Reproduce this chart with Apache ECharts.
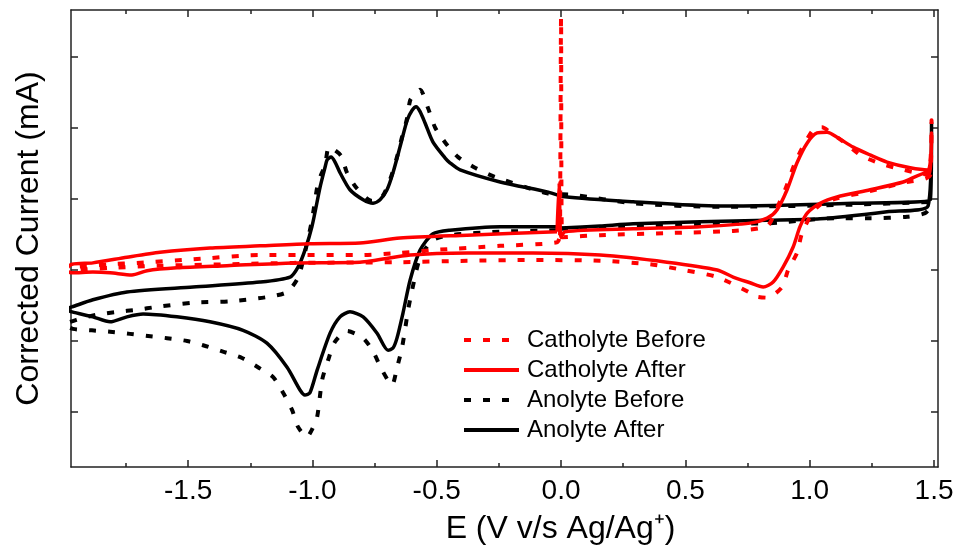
<!DOCTYPE html>
<html><head><meta charset="utf-8">
<script src="https://cdn.jsdelivr.net/npm/echarts@6/dist/echarts.min.js"></script>
<style>html,body{margin:0;padding:0;background:#fff}#c{width:957px;height:552px}</style>
</head><body><div id="c"></div>
<script>
// ---- tick values ----
const xMajorTicks = [-1.5, -1.0, -0.5, 0, 0.5, 1.0, 1.5];
const xMinorTicks = [-1.75, -1.25, -0.75, -0.25, 0.25, 0.75, 1.25];
const yTicks = [-3, -2, -1, 0, 1, 2];
const xRange = [-1.971, 1.516];
const yRange = [-3.775, 2.662];

// ---- series data: [E (V), corrected current (arb. tick units)] ----
const anolyteAfter = [
  [0,-0.41],[0.157,-0.38],[0.290,-0.35],[0.559,-0.32],[0.829,-0.30],[1.042,-0.28],[1.311,-0.18],[1.476,-0.10],
  [1.49,1.08],[1.485,-0.01],[1.175,-0.06],[0.640,-0.10],[0.290,-0.04],[0.016,0.03],[-0.056,0.10],[-0.245,0.24],
  [-0.406,0.41],[-0.447,0.51],[-0.467,0.58],[-0.515,0.80],[-0.547,1.07],[-0.567,1.23],[-0.583,1.30],[-0.599,1.25],
  [-0.619,1.11],[-0.648,0.73],[-0.676,0.37],[-0.700,0.13],[-0.728,-0.01],[-0.756,-0.06],[-0.796,-0.01],[-0.849,0.13],
  [-0.889,0.37],[-0.909,0.52],[-0.925,0.59],[-0.941,0.55],[-0.949,0.45],[-0.969,0.17],[-1.002,-0.39],[-1.030,-0.72],
  [-1.058,-0.96],[-1.090,-1.10],[-1.211,-1.17],[-1.480,-1.24],[-1.746,-1.31],[-1.883,-1.42],[-1.967,-1.52],[-1.995,-1.55],
  [-1.967,-1.59],[-1.883,-1.66],[-1.814,-1.73],[-1.746,-1.66],[-1.681,-1.62],[-1.545,-1.66],[-1.412,-1.73],[-1.279,-1.85],
  [-1.183,-2.03],[-1.102,-2.37],[-1.050,-2.69],[-1.030,-2.76],[-1.010,-2.73],[-0.981,-2.41],[-0.929,-1.89],[-0.889,-1.66],
  [-0.849,-1.59],[-0.796,-1.66],[-0.740,-1.89],[-0.696,-2.13],[-0.676,-2.10],[-0.660,-1.96],[-0.636,-1.61],[-0.607,-1.14],
  [-0.567,-0.72],[-0.515,-0.49],[-0.447,-0.44],[-0.245,-0.39],[-0.016,-0.39],[0,-0.41]
];
const anolyteBefore = [
  [0,-0.42],[0.290,-0.38],[0.559,-0.35],[0.841,-0.34],[1.110,-0.27],[1.243,-0.27],[1.392,-0.25],[1.464,-0.20],[1.484,-0.11],
  [1.485,-0.04],[1.175,-0.08],[0.640,-0.11],[0.290,-0.06],[0.048,0.06],[-0.056,0.08],[-0.265,0.31],[-0.346,0.44],
  [-0.414,0.59],[-0.467,0.80],[-0.507,1.01],[-0.535,1.28],[-0.567,1.54],[-0.591,1.46],[-0.607,1.39],[-0.619,1.14],
  [-0.640,0.87],[-0.660,0.59],[-0.688,0.27],[-0.720,0.03],[-0.760,-0.03],[-0.821,0.15],[-0.861,0.37],[-0.885,0.61],
  [-0.933,0.73],[-0.949,0.48],[-0.977,0.23],[-1.002,-0.30],[-1.030,-0.75],[-1.058,-1.11],[-1.102,-1.31],[-1.179,-1.38],
  [-1.331,-1.44],[-1.480,-1.46],[-1.625,-1.52],[-1.706,-1.56],[-1.786,-1.59],[-1.866,-1.63],[-1.947,-1.70],[-1.995,-1.77],
  [-1.963,-1.83],[-1.887,-1.85],[-1.814,-1.87],[-1.734,-1.90],[-1.661,-1.93],[-1.585,-1.96],[-1.504,-2.00],[-1.440,-2.06],
  [-1.360,-2.15],[-1.283,-2.24],[-1.219,-2.37],[-1.158,-2.51],[-1.118,-2.73],[-1.082,-2.97],[-1.058,-3.21],[-1.022,-3.35],
  [-1.002,-3.25],[-0.981,-3.07],[-0.961,-2.55],[-0.937,-2.27],[-0.909,-2.01],[-0.861,-1.86],[-0.796,-1.96],[-0.756,-2.15],
  [-0.720,-2.41],[-0.680,-2.62],[-0.660,-2.38],[-0.640,-2.10],[-0.628,-1.85],[-0.615,-1.56],[-0.599,-1.28],[-0.567,-0.83],
  [-0.515,-0.58],[-0.447,-0.51],[-0.245,-0.46],[-0.016,-0.44],[0,-0.42]
];
const catholyteAfter = [
  [-0.016,-0.46],[-0.008,0.23],[0,-0.54],[0.016,-0.46],[0.290,-0.42],[0.559,-0.39],[0.760,-0.34],[0.829,-0.27],
  [0.869,-0.15],[0.909,0.13],[0.949,0.51],[0.990,0.79],[1.030,0.93],[1.070,0.94],[1.110,0.87],[1.175,0.73],
  [1.243,0.62],[1.311,0.52],[1.404,0.44],[1.476,0.41],[1.49,0.93],[1.485,0.37],[1.472,0.37],[1.376,0.24],
  [1.243,0.13],[1.110,0.03],[1.042,-0.06],[0.990,-0.20],[0.961,-0.39],[0.933,-0.68],[0.893,-0.96],[0.853,-1.17],
  [0.813,-1.24],[0.760,-1.18],[0.692,-1.10],[0.628,-1.00],[0.426,-0.89],[0.157,-0.79],[-0.113,-0.76],[-0.378,-0.76],
  [-0.607,-0.79],[-0.809,-0.89],[-1.078,-0.90],[-1.344,-0.94],[-1.545,-0.97],[-1.665,-1.01],[-1.726,-1.07],[-1.814,-1.04],
  [-1.883,-1.03],[-1.967,-1.04],[-1.995,-1.00],[-1.967,-0.92],[-1.883,-0.90],[-1.746,-0.82],[-1.613,-0.75],[-1.412,-0.69],
  [-1.211,-0.66],[-1.010,-0.63],[-0.809,-0.62],[-0.648,-0.55],[-0.378,-0.51],[-0.016,-0.46]
];
const catholyteBefore = [
  [-0.004,-0.51],[0,2.56],[0.004,-0.54],[0.157,-0.51],[0.426,-0.48],[0.692,-0.45],[0.829,-0.38],[0.861,-0.18],
  [0.901,0.13],[0.941,0.51],[0.981,0.79],[1.022,1.00],[1.050,1.01],[1.082,0.94],[1.142,0.79],[1.203,0.62],
  [1.275,0.51],[1.344,0.44],[1.416,0.38],[1.476,0.34],[1.49,1.11],[1.485,0.34],[1.376,0.23],[1.243,0.11],
  [1.110,0.01],[1.042,-0.08],[1.010,-0.20],[0.969,-0.48],[0.949,-0.76],[0.913,-1.00],[0.889,-1.24],[0.829,-1.39],
  [0.780,-1.37],[0.760,-1.32],[0.628,-1.10],[0.491,-1.00],[0.358,-0.92],[0.157,-0.87],[-0.113,-0.86],[-0.378,-0.87],
  [-0.648,-0.89],[-1.078,-0.90],[-1.344,-0.92],[-1.613,-0.94],[-1.814,-0.97],[-1.967,-1.00],[-1.995,-0.97],[-1.967,-0.96],
  [-1.814,-0.92],[-1.706,-0.90],[-1.480,-0.85],[-1.211,-0.79],[-0.809,-0.79],[-0.648,-0.76],[-0.515,-0.72],[-0.245,-0.66],
  [-0.016,-0.61],[-0.004,-0.51]
];

const FONT = 'Liberation Sans, Arial, Helvetica, sans-serif';
const AX = '#222';
const chart = echarts.init(document.getElementById('c'), null, {renderer: 'canvas'});

function xAxisDef(position, ticks, len, showLine, showLabels) {
  return {
    type: 'value', position: position, min: xRange[0], max: xRange[1],
    axisLine: {show: showLine, onZero: false, lineStyle: {color: AX, width: 1.5}},
    axisTick: {show: true, inside: true, length: len, customValues: ticks, lineStyle: {color: AX, width: 1.5}},
    axisLabel: {show: showLabels, customValues: ticks, margin: 10, color: '#000', fontFamily: FONT, fontSize: 28,
      formatter: v => v.toFixed(1)},
    splitLine: {show: false}
  };
}
function yAxisDef(position) {
  return {
    type: 'value', position: position, min: yRange[0], max: yRange[1],
    axisLine: {show: true, onZero: false, lineStyle: {color: AX, width: 1.5}},
    axisTick: {show: true, inside: true, length: 7, customValues: yTicks, lineStyle: {color: AX, width: 1.5}},
    axisLabel: {show: false, customValues: yTicks},
    splitLine: {show: false}
  };
}

const xMain = xAxisDef('bottom', xMajorTicks, 7, true, true);
xMain.name = 'E (V v/s Ag/Ag\u207A)';
xMain.nameLocation = 'middle';
xMain.nameGap = 46;
xMain.nameTextStyle = {fontFamily: FONT, fontSize: 32, color: '#000', padding: [0, 0, 0, 112]};
const yMain = yAxisDef('left');
yMain.name = 'Corrected Current (mA)';
yMain.nameLocation = 'middle';
yMain.nameGap = 26;
yMain.nameTextStyle = {fontFamily: FONT, fontSize: 32, color: '#000'};

function lineSeries(name, data, color, dashed) {
  return {
    name: name, type: 'line', data: data, xAxisIndex: 0, yAxisIndex: 0,
    showSymbol: false, symbol: 'none', smooth: 0.25, animation: false, clip: true,
    lineStyle: {color: color, width: dashed ? 4 : 3.5, type: dashed ? [7, 12] : 'solid', cap: 'butt', join: 'round'},
    itemStyle: {color: color}
  };
}

chart.setOption({
  animation: false,
  backgroundColor: '#fff',
  grid: {left: 71, right: 19, top: 10, bottom: 85, containLabel: false},
  legend: {
    data: ['Catholyte Before', 'Catholyte After', 'Anolyte Before', 'Anolyte After'],
    orient: 'vertical', left: 462, top: 328, padding: 0, itemWidth: 55, itemHeight: 14, itemGap: 6,
    lineStyle: {width: 4},
    itemStyle: {opacity: 0},
    textStyle: {fontFamily: FONT, fontSize: 24, color: '#000', lineHeight: 24, padding: [0, 0, 0, 3]}
  },
  xAxis: [
    xMain,
    xAxisDef('bottom', xMinorTicks, 4, false, false),
    xAxisDef('top', xMajorTicks, 7, true, false),
    xAxisDef('top', xMinorTicks, 4, false, false)
  ],
  yAxis: [yMain, yAxisDef('right')],
  series: [
    lineSeries('Anolyte Before', anolyteBefore, '#000', true),
    lineSeries('Anolyte After', anolyteAfter, '#000', false),
    lineSeries('Catholyte Before', catholyteBefore, '#ff0000', true),
    lineSeries('Catholyte After', catholyteAfter, '#ff0000', false)
  ]
});
</script></body></html>
